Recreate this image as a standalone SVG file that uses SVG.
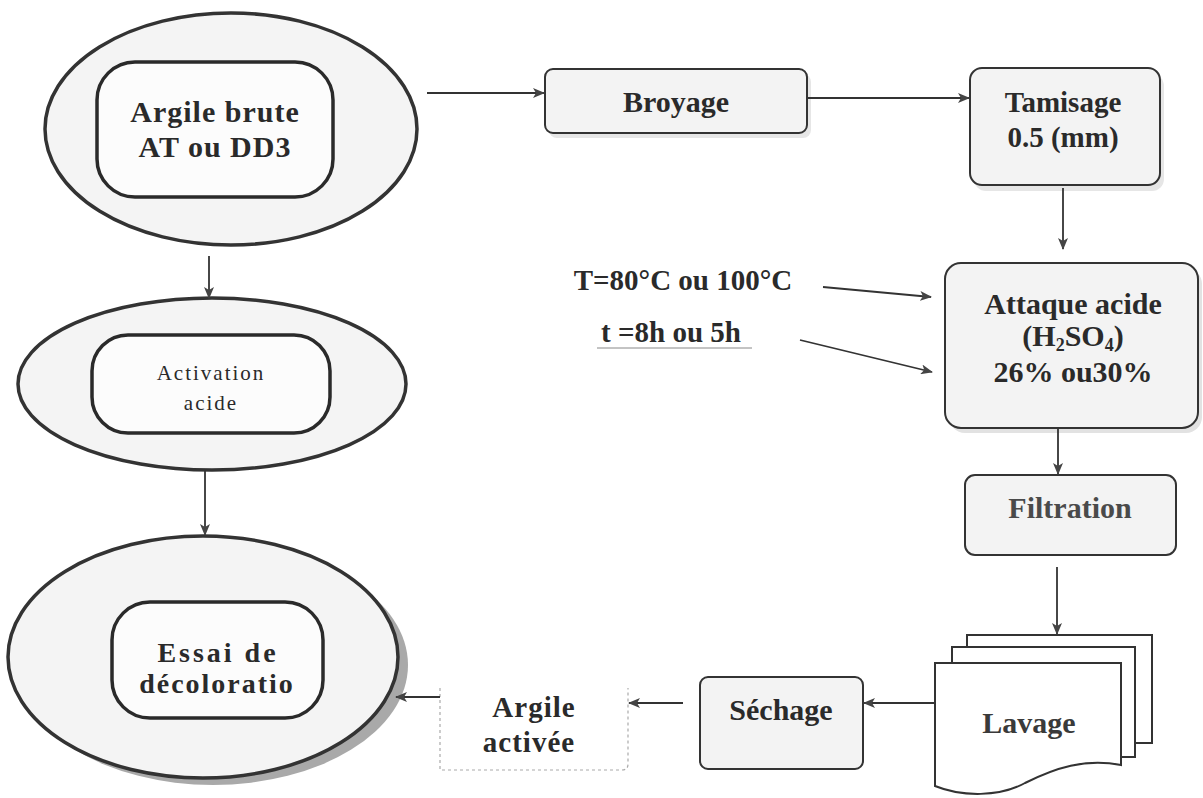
<svg xmlns="http://www.w3.org/2000/svg" width="1203" height="798" viewBox="0 0 1203 798">
<style>
.t{font-family:"Liberation Serif","Times New Roman",serif;font-weight:bold;fill:#2a2a2a;text-anchor:middle}
.outer{fill:#f4f4f4;stroke:#333;stroke-width:3.5}
.inner{fill:#fcfcfc;stroke:#2a2a2a;stroke-width:3.5}
.box{fill:#f3f3f3;stroke:#333;stroke-width:2}
.c{stroke:#333;stroke-width:1.8;fill:none}
</style>
<defs>
<marker id="a" markerWidth="12" markerHeight="10" refX="11" refY="5" orient="auto" markerUnits="userSpaceOnUse">
<path d="M0,0 L12,5 L0,10 L3,5 Z" fill="#444"/>
</marker>
</defs>
<rect width="1203" height="798" fill="#ffffff"/>

<g id="argile-brute">
<ellipse class="outer" cx="231" cy="129" rx="186" ry="116"/>
<rect class="inner" x="97" y="62" width="236" height="135" rx="38"/>
<text class="t" x="215" y="122" font-size="30" letter-spacing="1">Argile brute</text>
<text class="t" x="215" y="157" font-size="30" letter-spacing="1">AT ou DD3</text>
</g>

<g id="activation-acide">
<ellipse class="outer" cx="212" cy="384" rx="194" ry="86"/>
<rect class="inner" x="92" y="335" width="238" height="98" rx="36"/>
<text class="t" x="211" y="380" font-size="21" letter-spacing="2" style="font-weight:normal">Activation</text>
<text class="t" x="211" y="410" font-size="21" letter-spacing="2" style="font-weight:normal">acide</text>
</g>

<g id="essai-decoloration">
<ellipse cx="213" cy="665" rx="195" ry="120" fill="#a9a9a9"/>
<ellipse class="outer" cx="203" cy="657" rx="195" ry="121"/>
<rect class="inner" x="112" y="602" width="211" height="116" rx="38"/>
<text class="t" x="218" y="662" font-size="28" letter-spacing="3">Essai de</text>
<text class="t" x="217" y="693" font-size="28" letter-spacing="2">décoloratio</text>
</g>

<g id="broyage">
<rect x="549" y="74" width="262" height="64" rx="8" fill="#e6e6e6"/>
<rect class="box" x="545" y="69" width="262" height="64" rx="8"/>
<text class="t" x="676" y="112" font-size="30">Broyage</text>
</g>

<g id="tamisage">
<rect x="974" y="74" width="190" height="117" rx="12" fill="#e6e6e6"/>
<rect class="box" x="970" y="68" width="190" height="117" rx="12"/>
<text class="t" x="1063" y="112" font-size="29">Tamisage</text>
<text class="t" x="1063" y="147" font-size="29">0.5 (mm)</text>
</g>

<g id="conditions">
<text class="t" x="683" y="290" font-size="29">T=80°C ou 100°C</text>
<text class="t" x="671" y="342" font-size="29">t =8h ou 5h</text>
<line x1="597" y1="348" x2="752" y2="348" stroke="#888" stroke-width="1"/>
</g>

<g id="attaque-acide">
<rect x="949" y="268" width="253" height="165" rx="16" fill="#e2e2e2"/>
<rect class="box" x="945" y="263" width="253" height="165" rx="16" fill="#efefef"/>
<text class="t" x="1073" y="314" font-size="30">Attaque acide</text>
<text class="t" x="1073" y="346" font-size="30">(H<tspan font-size="18" baseline-shift="-5">2</tspan>SO<tspan font-size="18" baseline-shift="-5">4</tspan>)</text>
<text class="t" x="1073" y="382" font-size="30">26% ou30%</text>
</g>

<g id="filtration">
<rect class="box" x="965" y="475" width="211" height="80" rx="10" fill="#b9b9b9" stroke-width="2.5"/>
<text class="t" x="1070" y="518" font-size="30" style="fill:#4a4a4a">Filtration</text>
</g>

<g id="lavage">
<rect x="967" y="635" width="185" height="108" fill="#ffffff" stroke="#333" stroke-width="2"/>
<rect x="952" y="647" width="183" height="110" fill="#ffffff" stroke="#333" stroke-width="2"/>
<path d="M935,663 L1121,663 L1121,765 C1085,758 1055,768 1025,783 C1000,797 962,797 935,786 Z" fill="#ffffff" stroke="#333" stroke-width="2"/>
<text class="t" x="1029" y="733" font-size="30" style="fill:#3a3a3a">Lavage</text>
</g>

<g id="sechage">
<rect class="box" x="700" y="677" width="163" height="92" rx="8" fill="#dcdcdc" stroke-width="2.5"/>
<text class="t" x="781" y="720" font-size="30">Séchage</text>
</g>

<g id="argile-activee">
<path d="M440,688 L440,770 L622,770 Q628,770 628,764 L628,688" fill="none" stroke="#aaa" stroke-width="1.2" stroke-dasharray="3,3"/>
<text class="t" x="534" y="717" font-size="29" letter-spacing="1">Argile</text>
<text class="t" x="529" y="752" font-size="29" letter-spacing="1">activée</text>
</g>

<g id="connectors">
<line class="c" x1="427" y1="93" x2="544" y2="93" marker-end="url(#a)"/>
<line class="c" x1="807" y1="98" x2="969" y2="98" marker-end="url(#a)"/>
<line class="c" x1="1063" y1="188" x2="1063" y2="249" marker-end="url(#a)"/>
<line class="c" x1="823" y1="287" x2="931" y2="297" marker-end="url(#a)"/>
<line class="c" x1="800" y1="340" x2="932" y2="372" marker-end="url(#a)"/>
<line class="c" x1="1058" y1="429" x2="1058" y2="474" marker-end="url(#a)"/>
<line class="c" x1="1057" y1="567" x2="1057" y2="634" marker-end="url(#a)"/>
<line class="c" x1="934" y1="703" x2="864" y2="703" marker-end="url(#a)"/>
<line class="c" x1="683" y1="703" x2="629" y2="703" marker-end="url(#a)"/>
<line class="c" x1="440" y1="697" x2="396" y2="697" marker-end="url(#a)"/>
<line class="c" x1="209" y1="256" x2="209" y2="298" marker-end="url(#a)"/>
<line class="c" x1="205" y1="470" x2="205" y2="535" marker-end="url(#a)"/>
</g>
</svg>
